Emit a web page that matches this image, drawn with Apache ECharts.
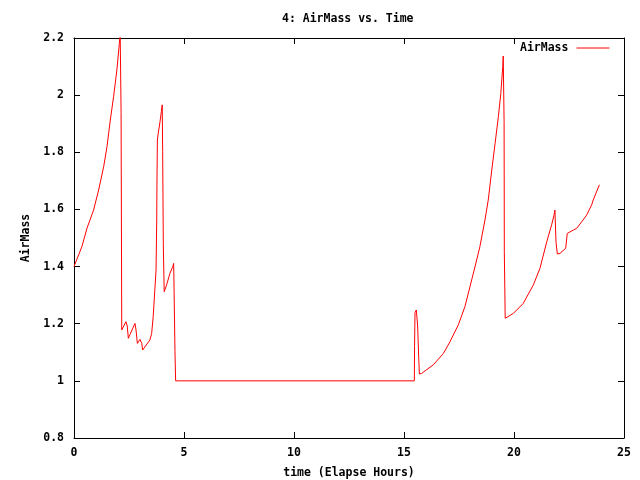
<!DOCTYPE html>
<html>
<head>
<meta charset="utf-8">
<script src="https://cdn.jsdelivr.net/npm/echarts@6/dist/echarts.min.js"></script>
<style>
  html, body { margin: 0; padding: 0; background: #fff; }
  #chart { width: 640px; height: 480px; }
</style>
</head>
<body>
<div id="chart"></div>
<script>
// elapsed hours
var hours = [
  0, 0.36, 0.59, 0.89, 1.12, 1.35, 1.5, 1.65, 1.8, 1.95, 2.06, 2.1, 2.14, 2.17,
  2.21, 2.36, 2.42, 2.47, 2.55, 2.77, 2.82, 2.88, 3.0, 3.08, 3.12, 3.45, 3.53, 3.6, 3.68,
  3.73, 3.76, 3.77, 3.79, 3.83, 3.91, 3.97, 4.01, 4.03, 4.06, 4.1, 4.21, 4.36, 4.49, 4.53,
  4.55, 4.59, 4.62,
  15.47, 15.48, 15.5, 15.56, 15.62, 15.67, 15.7, 15.8, 16.33, 16.79, 17.09, 17.47, 17.77,
  18.0, 18.23, 18.45, 18.68, 18.83, 18.99, 19.14, 19.29, 19.4, 19.49, 19.51, 19.55, 19.56,
  19.6, 19.67, 19.97, 20.42, 20.88, 21.18, 21.49, 21.71, 21.82, 21.86, 21.91, 21.97, 22.09,
  22.35, 22.42, 22.5, 22.7, 22.85, 23.08, 23.3, 23.53, 23.6, 23.88
];
var airMass = [
  1.40, 1.47, 1.534, 1.598, 1.668, 1.75, 1.82, 1.913, 1.995, 2.088, 2.18, 2.21, 1.94, 1.178,
  1.178, 1.207, 1.192, 1.149, 1.163, 1.201, 1.178, 1.131, 1.145, 1.131, 1.108, 1.143, 1.166, 1.225, 1.23,
  1.388, 1.563, 1.686, 1.843, 1.867, 1.907, 1.942, 1.966, 1.802, 1.476, 1.312, 1.336, 1.376, 1.4, 1.411,
  1.312, 1.102, 1.0,
  1.0, 1.12, 1.239, 1.248, 1.192, 1.079, 1.024, 1.026, 1.056, 1.096, 1.137, 1.196, 1.26,
  1.33, 1.4, 1.47, 1.563, 1.633, 1.738, 1.831, 1.925, 2.006, 2.1, 2.137, 1.907, 1.452,
  1.219, 1.222, 1.236, 1.271, 1.336, 1.394, 1.487, 1.546, 1.58, 1.598, 1.485, 1.444, 1.446,
  1.464, 1.516, 1.521, 1.528, 1.534, 1.557, 1.58, 1.616, 1.633, 1.686
];

var fontFam = '"DejaVu Sans Mono", monospace';
var fontSz = 11.5;

var data = hours.map(function (h, i) {
  return [h, airMass[i]];
});

var tickStyle = { inside: true, length: 6, lineStyle: { color: '#000' } };
var lineStyle = { show: true, onZero: false, lineStyle: { color: '#000', width: 1 } };
var txt = { fontFamily: fontFam, fontSize: fontSz, fontWeight: 'bold', color: '#000' };

var chart = echarts.init(document.getElementById('chart'));
chart.setOption({
  animation: false,
  backgroundColor: '#fff',
  title: {
    text: '4: AirMass vs. Time',
    left: 282,
    top: 13,
    padding: 0,
    textStyle: txt
  },
  legend: {
    data: ['AirMass'],
    orient: 'horizontal',
    left: 520,
    top: 42,
    align: 'right',
    padding: 0,
    itemWidth: 33,
    itemHeight: 14,
    itemStyle: { opacity: 0 },
    lineStyle: { width: 1, color: '#ff0000' },
    textStyle: { fontFamily: fontFam, fontSize: fontSz, fontWeight: 'bold', color: '#000', padding: [0, 3, 0, 0] }
  },
  grid: { left: 74, right: 16, top: 38, bottom: 42, outerBoundsMode: 'none', containLabel: false },
  xAxis: [{
    type: 'value',
    min: 0, max: 25, interval: 5,
    name: 'time (Elapse Hours)',
    nameLocation: 'middle',
    nameGap: 29,
    nameTextStyle: txt,
    axisLine: lineStyle,
    axisTick: tickStyle,
    splitLine: { show: false },
    axisLabel: { fontFamily: fontFam, fontSize: fontSz, fontWeight: 'bold', color: '#000', margin: 9 }
  }, {
    type: 'value', position: 'top',
    min: 0, max: 25, interval: 5,
    axisLine: lineStyle, axisTick: tickStyle,
    axisLabel: { show: false }, splitLine: { show: false }
  }],
  yAxis: [{
    type: 'value',
    min: 0.8, max: 2.2, interval: 0.2,
    name: 'AirMass',
    nameLocation: 'middle',
    nameGap: 39,
    nameTextStyle: txt,
    axisLine: lineStyle,
    axisTick: tickStyle,
    splitLine: { show: false },
    axisLabel: { fontFamily: fontFam, fontSize: fontSz, fontWeight: 'bold', color: '#000', margin: 10 }
  }, {
    type: 'value', position: 'right',
    min: 0.8, max: 2.2, interval: 0.2,
    axisLine: lineStyle, axisTick: tickStyle,
    axisLabel: { show: false }, splitLine: { show: false }
  }],
  series: [{
    name: 'AirMass',
    type: 'line',
    data: data,
    symbol: 'none',
    clip: true,
    lineStyle: { color: '#ff0000', width: 1 },
    itemStyle: { color: '#ff0000' }
  }]
});
</script>
</body>
</html>
